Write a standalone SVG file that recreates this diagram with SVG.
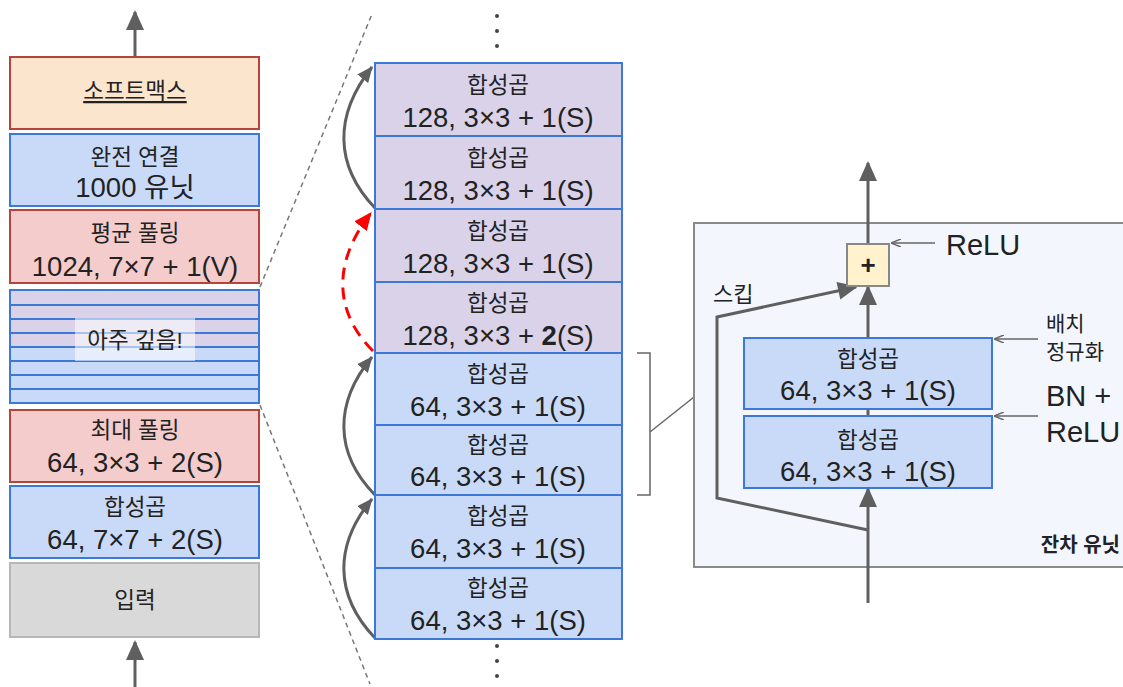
<svg xmlns="http://www.w3.org/2000/svg" width="1123" height="687" viewBox="0 0 1123 687">
<defs>
<style>
.kr{font-family:"Liberation Sans","Noto Sans CJK KR",sans-serif;font-size:22.5px;fill:#222;text-anchor:middle}
.num{font-family:"Liberation Sans","Noto Sans CJK KR",sans-serif;font-size:27.5px;fill:#222;text-anchor:middle}
.lbl{font-family:"Liberation Sans","Noto Sans CJK KR",sans-serif;fill:#222}
.blue{fill:#c9daf8;stroke:#3c78d8;stroke-width:2}
.purple{fill:#d9d2e9;stroke:#3c78d8;stroke-width:2}
.red{fill:#f4cccc;stroke:#b5453a;stroke-width:2}
.peach{fill:#fce5cd;stroke:#b5453a;stroke-width:2}
.gray{fill:#d9d9d9;stroke:#b7b7b7;stroke-width:2}
.arr{fill:none;stroke:#5f5f5f;stroke-width:3}
.thin{fill:none;stroke:#666;stroke-width:1.5}
.dash{fill:none;stroke:#777;stroke-width:1.5;stroke-dasharray:5 4}
</style>
<marker id="big" viewBox="0 0 20 18" refX="18" refY="9" markerWidth="21" markerHeight="18" markerUnits="userSpaceOnUse" orient="auto">
<path d="M0,0 L20,9 L0,18 z" fill="#5f5f5f"/>
</marker>
<marker id="mid" viewBox="0 0 16 14" refX="15" refY="7" markerWidth="16" markerHeight="14" markerUnits="userSpaceOnUse" orient="auto">
<path d="M0,0 L16,7 L0,14 z" fill="#5f5f5f"/>
</marker>
<marker id="redm" viewBox="0 0 16 14" refX="15" refY="7" markerWidth="18" markerHeight="16" markerUnits="userSpaceOnUse" orient="auto">
<path d="M0,0 L16,7 L0,14 z" fill="#ff0000"/>
</marker>
<marker id="sm" viewBox="0 0 10 8" refX="9" refY="4" markerWidth="10" markerHeight="8" markerUnits="userSpaceOnUse" orient="auto">
<path d="M0,0 L10,4 L0,8" fill="none" stroke="#666" stroke-width="1.5"/>
</marker>
</defs>

<!-- connectors -->
<g id="connectors">
<line class="arr" x1="135" y1="57" x2="135" y2="12" marker-end="url(#big)"/>
<line class="arr" x1="135" y1="687" x2="135" y2="642" marker-end="url(#big)"/>
<line class="dash" x1="260" y1="287" x2="372" y2="14"/>
<line class="dash" x1="260" y1="405" x2="370" y2="684"/>
<path class="arr" d="M375,638 C334,595 334,545 372,499" marker-end="url(#mid)"/>
<path class="arr" d="M375,495 C334,453 334,403 372,357" marker-end="url(#mid)"/>
<path d="M373,351 C332,310 334,260 371,213" fill="none" stroke="#ff0000" stroke-width="3" stroke-dasharray="12 8" marker-end="url(#redm)"/>
<path class="arr" d="M375,208 C334,165 334,115 372,67" marker-end="url(#mid)"/>
<path class="thin" d="M637,353 H650 V495 H637"/>
<line class="thin" x1="650" y1="432" x2="694" y2="397"/>
</g>

<!-- left column -->
<g id="softmax"><rect class="peach" x="10" y="57" width="249" height="72"/><text class="kr" x="135" y="99" text-decoration="underline">소프트맥스</text></g>
<g id="fc"><rect class="blue" x="10" y="134" width="249" height="72"/><text class="kr" x="135" y="165">완전 연결</text><text class="num" x="135" y="197">1000 유닛</text></g>
<g id="avgpool"><rect class="red" x="10" y="210" width="249" height="73"/><text class="kr" x="135" y="241">평균 풀링</text><text class="num" x="135" y="276">1024, 7×7 + 1(V)</text></g>
<g id="deep">
<rect class="purple" x="10" y="290" width="249" height="57"/>
<rect class="blue" x="10" y="347" width="249" height="56"/>
<g stroke="#3c78d8" stroke-width="2">
<line x1="10" y1="305" x2="259" y2="305"/><line x1="10" y1="319" x2="259" y2="319"/><line x1="10" y1="333" x2="259" y2="333"/><line x1="10" y1="347" x2="259" y2="347"/><line x1="10" y1="361" x2="259" y2="361"/><line x1="10" y1="375" x2="259" y2="375"/><line x1="10" y1="389" x2="259" y2="389"/>
</g>
<rect x="75" y="318" width="120" height="43" fill="#ffffff" fill-opacity="0.55"/>
<text class="kr" x="135" y="348" font-size="23">아주 깊음!</text>
</g>
<g id="maxpool"><rect class="red" x="10" y="410" width="249" height="72"/><text class="kr" x="135" y="438">최대 풀링</text><text class="num" x="135" y="472">64, 3×3 + 2(S)</text></g>
<g id="conv0"><rect class="blue" x="10" y="486" width="249" height="72"/><text class="kr" x="135" y="515">합성곱</text><text class="num" x="135" y="549">64, 7×7 + 2(S)</text></g>
<g id="input"><rect class="gray" x="10" y="563" width="249" height="74"/><text class="kr" x="135" y="608">입력</text></g>

<!-- middle column -->
<g id="dots" fill="#444"><circle cx="497" cy="16" r="2"/><circle cx="497" cy="31" r="2"/><circle cx="497" cy="46" r="2"/><circle cx="497" cy="646" r="2"/><circle cx="497" cy="661" r="2"/><circle cx="497" cy="676" r="2"/></g>
<g id="m1"><rect class="purple" x="375" y="63" width="247" height="73"/><text class="kr" x="498" y="93">합성곱</text><text class="num" x="498" y="127">128, 3×3 + 1(S)</text></g>
<g id="m2"><rect class="purple" x="375" y="136" width="247" height="73"/><text class="kr" x="498" y="166">합성곱</text><text class="num" x="498" y="200">128, 3×3 + 1(S)</text></g>
<g id="m3"><rect class="purple" x="375" y="209" width="247" height="73"/><text class="kr" x="498" y="239">합성곱</text><text class="num" x="498" y="273">128, 3×3 + 1(S)</text></g>
<g id="m4"><rect class="purple" x="375" y="282" width="247" height="71"/><text class="kr" x="498" y="311">합성곱</text><text class="num" x="498" y="345">128, 3×3 + <tspan font-weight="bold">2</tspan>(S)</text></g>
<g id="m5"><rect class="blue" x="375" y="353" width="247" height="72"/><text class="kr" x="498" y="382">합성곱</text><text class="num" x="498" y="416">64, 3×3 + 1(S)</text></g>
<g id="m6"><rect class="blue" x="375" y="425" width="247" height="70"/><text class="kr" x="498" y="453">합성곱</text><text class="num" x="498" y="486">64, 3×3 + 1(S)</text></g>
<g id="m7"><rect class="blue" x="375" y="495" width="247" height="73"/><text class="kr" x="498" y="524">합성곱</text><text class="num" x="498" y="558">64, 3×3 + 1(S)</text></g>
<g id="m8"><rect class="blue" x="375" y="568" width="247" height="71"/><text class="kr" x="498" y="596">합성곱</text><text class="num" x="498" y="630">64, 3×3 + 1(S)</text></g>

<!-- residual unit -->
<g id="resunit">
<rect x="694" y="223" width="440" height="344" fill="#f3f7fd" stroke="#8a8a8a" stroke-width="2"/>
<text class="lbl" x="1120" y="552" font-size="20" font-weight="bold" text-anchor="end">잔차 유닛</text>
</g>
<g id="res-connectors">
<line class="arr" x1="868" y1="244" x2="868" y2="163" marker-end="url(#big)"/>
<line class="arr" x1="868" y1="338" x2="868" y2="287" marker-end="url(#big)"/>
<line class="arr" x1="868" y1="409" x2="868" y2="416"/>
<line class="arr" x1="868" y1="603" x2="868" y2="489" marker-end="url(#big)"/>
<polyline class="arr" points="868,530 717,498 717,317 856,287" marker-end="url(#big)"/>
<line class="thin" x1="935" y1="243" x2="892" y2="243" marker-end="url(#sm)"/>
<line class="thin" x1="1038" y1="339" x2="995" y2="339" marker-end="url(#sm)"/>
<line class="thin" x1="1038" y1="416" x2="995" y2="416" marker-end="url(#sm)"/>
</g>
<g id="plus"><rect x="847" y="244" width="42" height="42" fill="#fff2cc" stroke="#888" stroke-width="2"/><text class="lbl" x="868" y="274" font-size="26" font-weight="bold" text-anchor="middle">+</text></g>
<g id="rc1"><rect class="blue" x="744" y="338" width="248" height="71"/><text class="kr" x="868" y="367">합성곱</text><text class="num" x="868" y="400">64, 3×3 + 1(S)</text></g>
<g id="rc2"><rect class="blue" x="744" y="416" width="248" height="72"/><text class="kr" x="868" y="448">합성곱</text><text class="num" x="868" y="481">64, 3×3 + 1(S)</text></g>
<g id="labels">
<text class="lbl" x="713" y="302" font-size="22">스킵</text>
<text class="lbl" x="946" y="255" font-size="29">ReLU</text>
<text class="lbl" x="1046" y="331" font-size="21">배치</text>
<text class="lbl" x="1046" y="359" font-size="21">정규화</text>
<text class="lbl" x="1046" y="406" font-size="29">BN +</text>
<text class="lbl" x="1046" y="442" font-size="29">ReLU</text>
</g>
</svg>
